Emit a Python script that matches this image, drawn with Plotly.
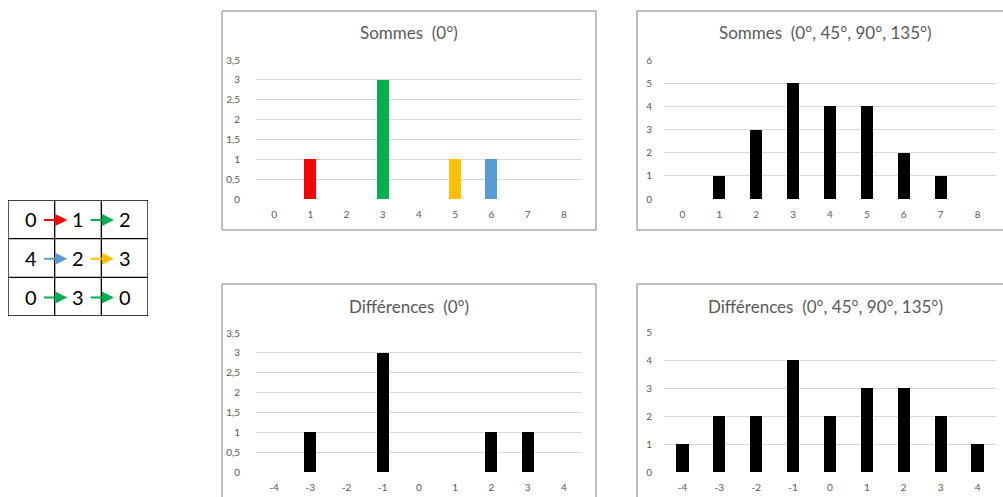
import plotly.graph_objects as go

# --- data ---
sums_cats = [0, 1, 2, 3, 4, 5, 6, 7, 8]
sums_0 = [0, 1, 0, 3, 0, 1, 1, 0, 0]
sums_0_colors = ["#000000", "#FF0000", "#000000", "#00B050", "#000000",
                 "#FFC000", "#5B9BD5", "#000000", "#000000"]
sums_all = [0, 1, 3, 5, 4, 4, 2, 1, 0]

diff_cats = [-4, -3, -2, -1, 0, 1, 2, 3, 4]
diff_0 = [0, 1, 0, 3, 0, 0, 1, 1, 0]
diff_all = [1, 2, 2, 4, 2, 3, 3, 2, 1]

titles = ["Sommes\u00a0\u00a0(0°)", "Sommes\u00a0\u00a0(0°, 45°, 90°, 135°)",
          "Différences\u00a0\u00a0(0°)", "Différences\u00a0\u00a0(0°, 45°, 90°, 135°)"]
y_max = [3.5, 6, 3.5, 5]
y_step = [0.5, 1, 0.5, 1]

# grey-level image shown on the left, with the horizontal neighbour pairs
grid = [[0, 1, 2],
        [4, 2, 3],
        [0, 3, 0]]
arrow_colors = [["#FF0000", "#00B050"],
                ["#5B9BD5", "#FFC000"],
                ["#00B050", "#00B050"]]

W, H = 1003, 497
TXT = "#595959"
GRID = "#D9D9D9"
FONT = "Lato, Carlito, Calibri, sans-serif"


def px(x):
    return x / W


def py(y):
    return 1 - y / H


fig = go.Figure()

bar_style = dict(width=0.33, marker_line_width=0)
fig.add_trace(go.Bar(x=sums_cats, y=sums_0, marker_color=sums_0_colors,
                     xaxis="x", yaxis="y", **bar_style))
fig.add_trace(go.Bar(x=sums_cats, y=sums_all, marker_color="#000000",
                     xaxis="x2", yaxis="y2", **bar_style))
fig.add_trace(go.Bar(x=diff_cats, y=diff_0, marker_color="#000000",
                     xaxis="x3", yaxis="y3", **bar_style))
fig.add_trace(go.Bar(x=diff_cats, y=diff_all, marker_color="#000000",
                     xaxis="x4", yaxis="y4", **bar_style))

# panel geometry in pixels: plot-area left/right, axis top/bottom, frame box
panels = [
    dict(x0=256, x1=582, top=60, bot=199, box=(222, 11, 596, 230), cats=sums_cats, ylab=15, tx=409),
    dict(x0=664, x1=996, top=60, bot=199, box=(637, 11, 1010, 230), cats=sums_cats, ylab=11, tx=825),
    dict(x0=256, x1=582, top=333, bot=472, box=(222, 284, 596, 510), cats=diff_cats, ylab=15, tx=409),
    dict(x0=664, x1=996, top=332, bot=472, box=(637, 284, 1010, 510), cats=diff_cats, ylab=11, tx=825),
]

layout = {}
shapes = []
annotations = []
for i, p in enumerate(panels):
    sfx = "" if i == 0 else str(i + 1)
    n = int(round(y_max[i] / y_step[i]))
    yt = [k * y_step[i] for k in range(n + 1)]
    layout["xaxis" + sfx] = dict(
        domain=[px(p["x0"]), px(p["x1"])], anchor="y" + sfx,
        range=[p["cats"][0] - 0.5, p["cats"][-1] + 0.5], automargin=False,
        tickmode="array", tickvals=p["cats"], ticktext=[str(c) for c in p["cats"]],
        showgrid=False, zeroline=False,
        showline=False, ticks="", ticklabelstandoff=8,
        tickfont=dict(size=10, color=TXT, family=FONT), fixedrange=True)
    layout["yaxis" + sfx] = dict(
        domain=[py(p["bot"]), py(p["top"])], anchor="x" + sfx,
        range=[0, y_max[i]], tickmode="array", tickvals=yt, automargin=False,
        showgrid=True, gridcolor=GRID, gridwidth=1, zeroline=False,
        showline=False, ticks="", ticklabelstandoff=p["ylab"],
        tickfont=dict(size=10, color=TXT, family=FONT), fixedrange=True)
    bx0, by0, bx1, by1 = p["box"]
    shapes.append(dict(type="rect", xref="paper", yref="paper",
                       x0=px(bx0), x1=px(bx1), y0=py(by1), y1=py(by0),
                       line=dict(color="#7F7F7F", width=1), layer="below"))
    annotations.append(dict(text=titles[i], xref="paper", yref="paper",
                            x=px(p["tx"]), y=py(by0 + 22), showarrow=False,
                            xanchor="center", yanchor="middle",
                            font=dict(size=17, color=TXT, family=FONT)))

# table axes
layout["xaxis5"] = dict(domain=[px(8), px(148)], anchor="y5", range=[0, 3],
                        visible=False, fixedrange=True, automargin=False)
layout["yaxis5"] = dict(domain=[py(316), py(200)], anchor="x5", range=[3, 0],
                        visible=False, fixedrange=True, automargin=False)
shapes.append(dict(type="rect", xref="x5", yref="y5", x0=0, x1=3, y0=0, y1=3,
                   line=dict(color="#000000", width=1.3)))
for k in (1, 2):
    shapes.append(dict(type="line", xref="x5", yref="y5", x0=k, x1=k, y0=0, y1=3,
                       line=dict(color="#000000", width=1.3)))
    shapes.append(dict(type="line", xref="x5", yref="y5", x0=0, x1=3, y0=k, y1=k,
                       line=dict(color="#000000", width=1.3)))
for r, row in enumerate(grid):
    for c, v in enumerate(row):
        annotations.append(dict(text=str(v), xref="x5", yref="y5", x=c + 0.5,
                                y=r + 0.5, showarrow=False,
                                font=dict(size=20, color="#000000", family=FONT)))
    for c, col in enumerate(arrow_colors[r]):
        annotations.append(dict(text="", xref="x5", yref="y5", axref="x5", ayref="y5",
                                x=c + 1.27, y=r + 0.52, ax=c + 0.74, ay=r + 0.52,
                                showarrow=True, arrowhead=2, arrowsize=1.2,
                                arrowwidth=2, arrowcolor=col))

fig.update_layout(
    width=W, height=H, margin=dict(l=0, r=0, t=0, b=0, autoexpand=False),
    paper_bgcolor="white", plot_bgcolor="white", showlegend=False,
    separators=", ", bargap=0, shapes=shapes, annotations=annotations,
    **layout)

fig.write_html("out.html", config={"displayModeBar": False},
               post_script="document.body.style.margin='0';document.body.style.overflow='hidden';")
